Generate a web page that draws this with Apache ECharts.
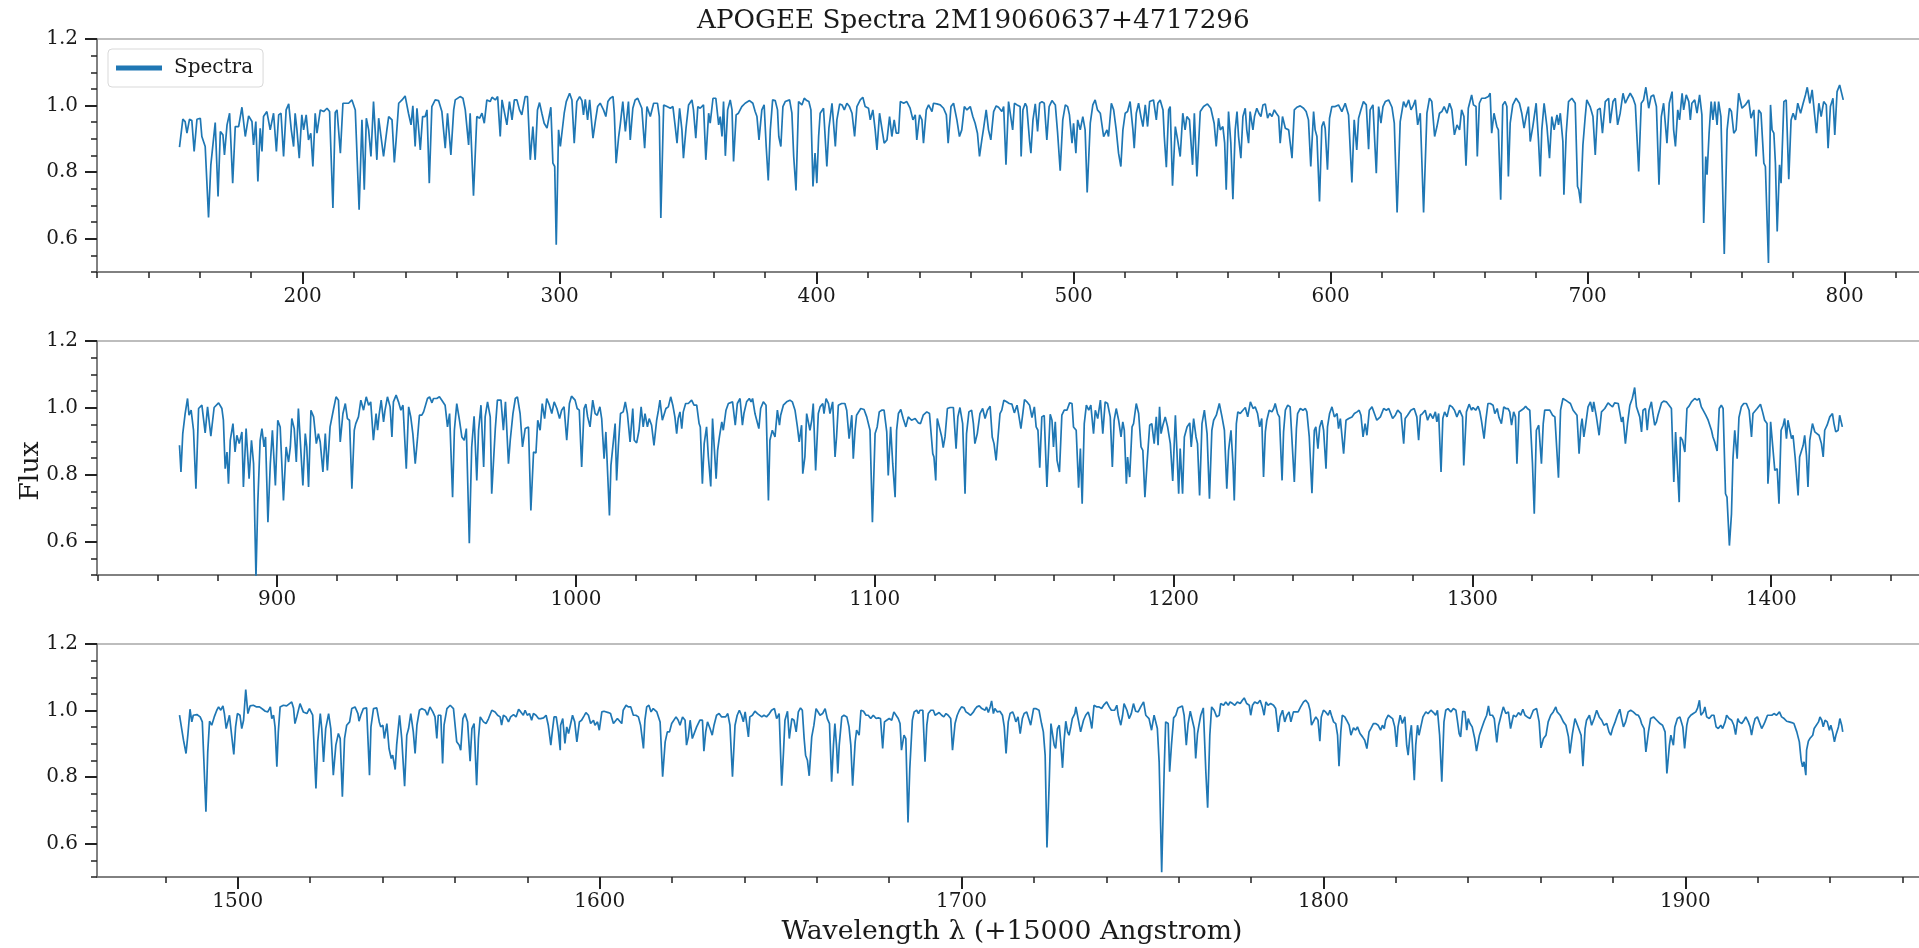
<!DOCTYPE html>
<html><head><meta charset="utf-8">
<script src="https://cdn.jsdelivr.net/npm/echarts@6/dist/echarts.min.js"></script>
<style>html,body{margin:0;padding:0;background:#fff}#chart{width:1919px;height:948px}</style>
</head><body><div id="chart"></div>
<script>
// Wavelength (+15000 Angstrom), flux pairs, panel by panel
const panel1 = [
[152.1,0.875],[153.4,0.959],[154.3,0.952],[155.0,0.917],[156.0,0.959],[156.9,0.955],[157.8,0.862],[158.9,0.959],[160.2,0.962],[160.8,0.907],[162.1,0.877],[163.4,0.664],[164.3,0.822],[164.7,0.852],[166.0,0.949],[167.1,0.727],[168.0,0.922],[169.0,0.912],[169.6,0.852],[170.6,0.942],[171.6,0.977],[172.8,0.767],[173.8,0.937],[175.1,0.937],[176.4,0.995],[177.7,0.907],[179.0,0.969],[180.3,0.952],[180.9,0.882],[181.8,0.952],[182.6,0.772],[183.5,0.932],[184.2,0.862],[184.8,0.967],[186.1,0.982],[187.4,0.927],[188.7,0.977],[189.8,0.862],[190.7,0.972],[191.6,0.977],[192.6,0.847],[193.6,0.987],[194.6,1.005],[195.6,0.927],[196.5,0.877],[197.1,0.977],[197.8,0.927],[198.7,0.842],[199.7,0.972],[200.4,0.927],[201.4,0.972],[202.3,0.897],[203.2,0.917],[204.0,0.817],[204.9,0.977],[205.6,0.917],[206.9,0.987],[208.2,0.982],[209.5,0.992],[210.5,0.982],[211.8,0.692],[212.7,0.979],[213.4,0.987],[214.7,0.857],[215.7,1.007],[217.9,1.007],[219.2,1.017],[220.5,0.987],[222.0,0.687],[223.1,0.957],[224.0,0.747],[224.8,0.962],[225.7,0.927],[226.6,0.847],[227.6,1.012],[228.9,0.837],[229.6,0.962],[230.2,0.967],[231.5,0.847],[232.8,0.927],[233.5,0.967],[234.8,0.957],[235.7,0.829],[236.4,0.897],[237.4,1.007],[238.7,1.017],[239.9,1.029],[241.2,0.977],[242.2,0.942],[242.9,0.999],[243.8,0.877],[244.5,0.992],[245.8,0.867],[246.7,0.967],[247.7,0.967],[248.4,0.987],[249.3,0.767],[250.3,0.997],[251.6,1.017],[252.9,1.015],[254.2,0.982],[255.5,0.872],[256.4,0.977],[257.7,0.852],[258.8,0.987],[259.4,1.017],[261.3,1.027],[262.4,1.022],[263.3,0.987],[264.6,0.882],[265.2,0.977],[266.5,0.729],[267.8,0.967],[268.9,0.962],[269.8,0.977],[270.7,0.947],[271.7,1.017],[273.0,1.012],[273.7,1.025],[275.0,1.017],[275.9,1.027],[276.9,0.907],[277.6,1.017],[278.2,1.022],[279.5,0.942],[280.5,1.012],[281.5,0.957],[282.4,1.017],[283.4,1.017],[284.4,0.987],[285.3,0.972],[286.6,1.027],[287.5,1.027],[288.6,0.837],[289.6,0.937],[290.5,0.837],[291.4,0.987],[292.2,1.009],[293.1,0.977],[294.0,0.947],[295.1,0.932],[295.7,0.957],[296.6,0.995],[297.4,0.827],[298.1,0.817],[298.7,0.582],
[299.6,0.927],[300.3,0.877],[301.0,0.872],[301.8,0.977],[302.6,1.012],[303.9,1.037],[304.8,1.017],[305.7,0.887],[306.7,1.012],[307.8,1.027],[308.7,1.015],[309.3,0.972],[310.0,1.019],[310.9,0.957],[311.7,1.017],[312.3,1.022],[313.0,0.902],[313.9,0.952],[314.8,0.997],[315.8,1.007],[317.1,0.987],[318.0,0.967],[318.8,1.012],[319.7,1.022],[320.8,1.027],[321.3,0.977],[322.0,0.827],[323.0,0.907],[323.6,0.942],[324.6,1.012],[325.6,0.922],[326.8,1.012],[327.5,0.897],[328.5,0.992],[329.4,1.017],[330.4,1.022],[331.1,1.017],[332.0,0.992],[333.1,0.872],[334.0,0.997],[335.3,0.967],[336.6,1.007],[338.1,1.007],[338.8,0.967],[339.4,0.662],[340.5,1.002],[341.8,0.997],[343.1,0.992],[344.1,0.997],[345.0,0.937],[345.7,0.887],[346.7,0.992],[347.6,0.927],[348.2,0.842],[349.2,0.932],[350.2,1.002],[351.5,1.017],[352.1,0.987],[353.0,0.902],[353.8,0.997],[354.7,0.992],[356.0,1.002],[356.9,0.837],[358.0,0.977],[358.6,0.947],[359.7,1.022],[360.8,1.022],[361.9,0.942],[362.5,0.967],[363.2,0.907],[363.8,1.012],[364.5,0.849],[365.4,0.987],[366.4,1.017],[367.1,0.987],[367.7,0.832],[368.7,0.972],[369.6,0.977],[370.9,0.997],[372.2,1.007],[373.9,1.015],[375.2,1.007],[376.1,0.982],[376.8,0.967],[377.6,0.897],[378.7,0.987],[379.6,1.002],[380.4,0.877],[381.2,0.775],[382.0,0.927],[382.9,1.017],[383.9,1.015],[384.8,0.987],[385.3,0.907],[386.1,0.877],[386.9,0.997],[387.8,1.012],[389.5,1.017],[390.4,0.977],[391.1,0.847],[392.0,0.745],[393.0,1.012],[394.3,1.002],[395.2,1.022],[396.2,1.015],[397.0,1.012],[397.8,0.987],[398.6,0.757],[399.4,0.857],[400.1,0.767],[400.8,0.907],[401.4,0.977],[402.7,0.992],[404.0,0.817],[404.8,0.932],[406.0,1.007],[407.3,0.877],[407.9,0.957],[409.0,1.005],[409.9,1.002],[410.8,0.987],[411.8,1.007],[412.8,0.997],[413.8,0.977],[414.8,0.907],[415.7,0.997],[417.0,1.017],[418.0,1.025],[418.9,0.997],[420.2,0.992],[420.9,0.957],[421.9,0.987],[422.8,0.927],[423.5,0.867],[424.5,0.977],[425.4,0.932],[426.3,0.887],[427.4,0.897],[428.4,0.967],[429.3,0.907],[430.2,0.957],[431.0,0.917],[431.9,0.917],[432.6,1.012],[433.9,1.007],[435.1,1.012],[436.4,0.992],[437.5,0.957],[438.4,0.972],[439.0,0.897],[440.1,0.972],[441.0,0.957],[441.6,0.887],[442.7,0.987],[443.6,1.002],[444.9,0.982],[445.5,1.007],[446.8,1.005],[448.1,1.002],[449.4,0.992],[450.5,0.972],[451.2,0.887],[452.3,0.997],[453.3,1.007],[454.6,0.957],[455.6,0.907],[456.5,0.927],[457.5,0.997],[458.5,0.987],[459.8,0.997],[460.8,0.967],[461.7,0.947],[462.6,0.917],[463.4,0.847],[464.3,0.897],[465.0,0.932],[466.0,0.987],[466.9,0.927],[467.8,0.897],[468.9,0.982],[469.9,0.999],[470.8,0.995],[472.1,0.982],[472.8,0.997],[473.7,0.822],[474.7,1.012],
[475.4,1.012],[476.3,0.927],[477.0,1.007],[478.0,1.002],[479.2,0.997],[479.6,0.847],[480.3,0.987],[481.2,1.007],[481.8,0.997],[482.9,0.892],[483.4,0.857],[484.2,0.957],[485.1,1.005],[486.0,0.922],[486.8,1.007],[487.7,1.012],[488.6,1.007],[489.6,0.897],[490.5,0.997],[491.6,1.015],[492.9,1.002],[493.8,0.917],[494.8,0.804],[495.8,0.957],[496.8,1.002],[497.7,0.997],[498.4,0.972],[499.4,0.887],[500.0,0.947],[500.9,0.857],[501.6,0.957],[502.6,0.927],[503.6,0.967],[504.5,0.927],[505.3,0.739],[506.5,0.947],[507.5,1.002],[508.4,1.017],[509.3,0.987],[510.4,0.977],[511.7,0.907],[513.0,0.927],[513.6,0.907],[514.7,1.007],[515.6,0.987],[516.6,0.927],[517.5,0.857],[518.4,0.817],[519.2,0.927],[520.1,0.977],[521.0,0.982],[522.0,1.012],[523.1,0.927],[523.6,0.872],[524.4,0.977],[525.3,1.007],[526.2,0.967],[527.0,0.937],[527.9,1.002],[528.8,0.937],[529.6,1.012],[531.1,1.017],[532.2,0.957],[532.8,1.007],[533.7,1.017],[534.8,0.987],[535.3,0.907],[536.1,0.815],[537.0,0.987],[537.6,0.997],[538.5,0.759],[539.6,0.937],[540.5,0.897],[541.5,0.847],[542.5,0.977],[543.4,0.927],[544.1,0.967],[545.1,0.957],[546.3,0.822],[547.0,0.977],[548.0,0.787],[549.3,0.982],[550.6,0.997],[552.1,1.005],[553.4,0.992],[554.7,0.947],[555.5,0.877],[556.4,0.962],[557.1,0.927],[558.1,0.937],[558.8,0.887],[559.4,0.747],[560.3,0.982],[561.2,0.887],[562.0,0.719],[562.9,0.927],[563.6,0.982],[564.2,0.907],[565.1,0.842],[565.9,0.967],[566.8,0.992],[567.4,0.927],[568.1,0.887],[568.7,0.982],[569.8,0.927],[570.4,0.967],[571.3,0.992],[572.1,0.977],[572.9,0.967],[573.7,1.002],[574.6,1.005],[575.5,0.962],[576.3,0.977],[577.2,0.967],[578.1,0.987],[578.9,0.977],[579.8,0.967],[580.4,0.887],[581.3,0.967],[582.4,0.932],[583.7,0.927],[585.0,0.842],[585.9,0.987],[586.9,0.995],[588.2,0.999],[589.5,0.992],[590.5,0.982],[591.4,0.957],[592.3,0.817],[593.4,0.982],[594.0,0.927],[594.7,0.907],[595.7,0.712],[596.6,0.937],[597.3,0.952],[597.9,0.932],[598.8,0.807],[599.6,0.962],[600.5,0.997],[601.8,0.997],[603.1,1.002],[604.4,0.982],[605.7,1.007],[607.0,0.972],[608.3,0.769],[609.2,0.957],[610.2,0.867],[610.9,0.962],[611.8,0.987],[612.8,1.012],[613.9,1.002],[614.8,0.869],[615.4,0.987],[616.5,1.002],[617.8,0.797],[618.7,0.997],[619.6,0.947],[620.4,0.997],[621.3,1.012],[622.6,1.017],[623.9,0.995],[624.8,0.947],[625.9,0.679],[627.1,0.952],[628.4,1.012],[629.3,0.995],[630.4,1.017],[631.3,0.987],[632.3,1.002],[633.0,1.017],[633.9,0.942],[634.9,0.977],[636.2,0.679],[637.5,0.977],[638.5,1.022],[639.4,1.012],[640.5,0.907],[641.4,0.937],[642.4,0.977],[643.3,0.982],[644.2,0.997],[645.3,0.977],[646.3,1.007],[647.2,0.987],[648.2,0.912],[649.2,0.942],[650.2,0.927],
[651.0,0.987],[651.9,0.967],[652.7,0.819],[653.6,0.992],[654.9,1.032],[655.6,1.002],[656.6,0.997],[657.1,0.847],[657.9,1.007],[658.8,1.022],[660.1,1.022],[661.4,1.027],[662.1,1.037],[662.7,0.917],[663.6,0.977],[664.7,0.937],[665.3,0.927],[666.2,0.717],[667.0,1.002],[667.9,1.012],[668.6,0.997],[669.2,0.787],[669.9,0.947],[670.9,1.002],[672.2,1.022],[673.5,1.007],[674.4,0.977],[675.3,0.932],[676.1,0.967],[677.0,0.997],[677.7,0.892],[678.7,0.937],[680.0,1.007],[680.9,0.897],[681.6,0.787],[682.2,0.927],[683.1,1.007],[684.2,0.937],[685.2,0.842],[686.1,0.967],[687.0,0.927],[688.1,0.972],[688.7,0.942],[689.4,0.977],[690.4,0.892],[690.8,0.732],[691.7,0.917],[692.6,1.012],[693.9,1.022],[695.2,1.007],[696.1,0.757],[696.6,0.747],[697.3,0.707],[698.2,0.882],[699.1,0.967],[699.7,1.017],[701.0,0.997],[702.1,0.967],[703.0,0.852],[703.9,0.987],[704.9,0.992],[705.8,0.917],[706.9,1.012],[708.2,1.022],[708.8,0.947],[709.9,1.012],[710.8,1.022],[711.7,0.942],[712.7,0.977],[713.8,1.037],[714.7,1.007],[715.6,1.022],[716.6,1.037],[717.7,1.022],[718.6,1.002],[719.9,0.802],[720.9,1.007],[721.8,1.017],[722.7,1.055],[723.8,0.992],[724.7,1.027],[725.7,1.032],[726.8,0.997],[727.8,0.762],[728.7,0.967],[729.6,1.007],[730.9,0.887],[731.8,1.007],[732.9,1.042],[733.5,0.927],[734.2,0.877],[735.1,0.987],[735.8,0.957],[736.8,1.037],[737.4,0.987],[738.4,1.032],[739.4,1.012],[740.0,0.957],[740.6,1.007],[741.7,1.017],[742.6,0.977],[743.6,1.032],[744.5,0.972],[745.2,0.647],[746.0,0.847],[746.5,0.792],[747.3,0.917],[748.1,1.012],[748.8,0.957],[749.5,1.012],[750.4,0.942],[751.0,1.012],[751.9,0.967],[753.2,0.554],[754.3,0.927],[755.2,0.992],[756.0,0.982],[756.9,0.917],[757.8,0.927],[758.8,1.037],[760.1,0.992],[761.4,1.002],[762.7,1.017],[763.6,0.962],[764.7,0.987],[765.6,0.847],[766.6,0.987],[767.5,0.977],[768.6,0.827],[769.2,0.817],[770.4,0.527],[771.2,1.002],[771.8,0.927],[772.5,0.917],[773.1,0.827],[773.8,0.622],[774.7,0.822],[775.3,0.767],[776.4,1.012],[777.3,1.017],[778.3,0.779],[779.2,0.957],[780.0,0.977],[780.9,0.957],[781.8,1.007],[782.9,0.977],[783.9,1.007],[784.8,1.032],[785.5,1.055],[786.5,1.007],[787.4,1.047],[788.3,0.977],[789.1,0.917],[790.0,1.007],[790.9,0.967],[791.9,1.012],[792.9,1.002],[793.6,0.872],[794.5,0.997],[795.5,1.022],[796.2,0.912],[797.1,1.042],[798.1,1.062],[798.7,1.057],[799.5,1.017]
];
const panel2 = [
[867.3,0.888],[867.8,0.808],[868.4,0.923],[869.2,0.983],[870.0,1.028],[870.5,0.978],[871.2,0.993],[872.0,0.933],[872.8,0.758],[873.7,0.998],[874.8,1.008],[875.9,0.925],[876.7,1.003],[877.8,0.915],[878.9,1.001],[880.4,1.015],[881.5,0.998],[882.0,0.963],[882.6,0.818],[883.2,0.868],[883.7,0.773],[884.3,0.903],[885.2,0.953],[885.9,0.868],[886.5,0.918],[887.3,0.893],[888.2,0.928],[888.7,0.763],[889.6,0.938],[890.6,0.788],[891.4,0.903],[892.1,0.833],[892.9,0.493],[893.5,0.713],[894.3,0.903],[894.9,0.938],[895.6,0.883],[896.1,0.913],[896.9,0.658],[897.7,0.833],[898.4,0.933],[899.4,0.768],[900.2,0.963],[901.0,0.943],[902.1,0.723],[903.0,0.883],[903.8,0.838],[904.4,0.883],[904.9,0.968],[905.7,0.938],[906.4,0.838],[907.1,0.998],[907.7,0.993],[908.6,0.768],[909.4,0.923],[909.9,0.883],[910.5,0.763],[911.3,0.993],[912.2,0.973],[913.1,0.893],[913.8,0.923],[914.4,0.898],[915.3,0.808],[916.1,0.923],[916.8,0.813],[917.7,0.943],[918.9,0.998],[919.7,1.033],[920.5,1.023],[921.1,0.898],[922.0,0.983],[922.8,1.013],[923.5,0.968],[924.2,0.963],[925.0,0.758],[925.8,0.933],[926.3,0.953],[927.2,0.973],[928.0,1.023],[928.9,0.993],[929.8,1.033],[930.6,1.008],[931.3,1.018],[932.2,0.903],[933.1,0.983],[933.6,0.933],[934.1,0.978],[934.8,1.023],[935.6,0.958],[936.1,0.993],[936.9,1.033],[937.8,1.003],[938.4,0.913],[938.9,1.018],[939.8,1.038],[940.6,1.018],[941.4,0.993],[942.1,1.008],[943.2,0.818],[944.0,1.003],[944.7,0.973],[945.4,0.923],[946.2,0.833],[947.0,0.913],[947.6,0.978],[948.4,0.978],[949.0,0.988],[949.5,0.983],[950.3,1.028],[951.0,1.033],[951.8,1.015],[952.3,1.028],[953.4,1.028],[954.3,1.033],[955.1,1.023],[956.2,1.008],[957.0,0.943],[957.7,0.983],[958.7,0.733],[959.3,0.933],[960.1,1.013],[961.0,0.963],[961.8,0.913],[962.6,0.903],[963.3,0.938],[964.3,0.595],[965.1,0.883],[965.9,0.975],[966.8,0.783],[967.4,0.933],[968.2,1.008],[969.1,0.823],[969.6,0.973],[970.4,1.018],[971.3,0.973],[971.8,0.743],[973.0,0.938],[973.7,1.023],[974.9,1.023],[975.7,0.933],[976.4,1.018],[977.4,0.833],[978.0,0.903],[978.9,0.983],[979.7,1.028],[980.4,1.033],[981.3,0.983],[982.1,0.883],[983.0,0.938],[983.6,0.933],[984.1,0.943],[984.9,0.693],[985.8,0.868],[986.6,0.865],[987.2,0.963],[988.0,0.933],[988.7,1.013],[989.5,0.968],[990.2,1.028],[991.1,1.008],[991.9,0.983],[992.7,1.018],[993.6,0.998],[994.5,0.968],
[995.2,0.993],[996.0,1.003],[996.9,0.903],[997.8,1.013],[998.5,1.035],[999.7,1.023],[1000.4,0.998],[1001.1,0.993],[1001.9,0.823],[1002.7,0.998],[1003.3,1.011],[1003.9,0.973],[1004.7,0.943],[1005.6,1.023],[1006.4,0.983],[1007.1,0.978],[1008.0,1.003],[1008.6,0.968],[1009.4,0.848],[1010.0,0.928],[1010.6,0.923],[1011.2,0.678],[1011.7,0.828],[1012.3,0.833],[1013.1,0.953],[1013.6,0.783],[1014.2,0.888],[1014.9,0.983],[1015.8,0.988],[1016.5,1.018],[1017.2,0.983],[1018.1,0.898],[1019.0,0.998],[1019.5,0.903],[1020.3,0.895],[1021.1,0.933],[1021.8,1.003],[1022.5,0.943],[1023.1,0.983],[1023.9,0.943],[1024.5,0.968],[1025.3,0.948],[1026.1,0.888],[1027.0,0.963],[1027.6,0.993],[1028.1,1.023],[1028.9,0.963],[1029.5,0.963],[1030.1,0.998],[1030.9,1.003],[1031.7,1.033],[1032.4,1.008],[1033.1,0.973],[1033.7,0.923],[1034.2,0.968],[1034.8,0.988],[1035.4,0.938],[1035.9,0.988],[1036.7,1.013],[1037.6,1.013],[1038.7,1.023],[1039.5,1.008],[1040.4,1.008],[1041.2,0.953],[1041.6,0.943],[1042.3,0.773],[1042.9,0.893],[1043.7,0.943],[1044.3,0.853],[1045.1,0.765],[1045.7,0.968],[1046.2,0.963],[1046.9,0.788],[1047.4,0.873],[1048.0,0.913],[1048.8,0.958],[1049.3,0.933],[1050.2,0.993],[1051.0,1.013],[1051.5,1.008],[1052.4,1.018],[1053.3,0.948],[1054.0,1.013],[1054.9,1.028],[1055.7,0.948],[1056.2,0.983],[1057.1,1.018],[1058.0,1.028],[1058.6,1.018],[1059.1,1.028],[1059.9,0.983],[1060.5,0.983],[1061.2,0.938],[1061.8,0.998],[1062.7,1.018],[1063.6,1.008],[1064.4,0.723],[1064.9,0.903],[1065.7,0.933],[1066.6,0.913],[1067.4,0.993],[1068.1,0.948],[1068.5,0.978],[1069.4,1.008],[1070.5,1.018],[1071.6,1.023],[1072.4,1.018],[1073.3,0.993],[1074.1,0.943],[1074.7,0.898],[1075.5,0.948],[1075.9,0.803],[1076.6,0.853],[1077.2,0.983],[1077.8,0.978],[1078.3,0.933],[1078.9,0.963],[1079.4,1.013],[1080.2,0.813],[1081.1,0.983],[1081.7,1.003],[1082.6,1.013],[1083.0,0.983],[1083.7,1.028],[1084.5,1.013],[1085.0,0.983],[1085.9,1.018],[1086.7,0.853],[1087.2,0.913],[1087.8,1.008],[1088.9,1.013],[1090.0,1.013],[1090.6,0.993],[1091.4,0.908],[1092.3,0.978],[1092.8,0.848],[1093.4,0.933],[1093.9,0.978],[1094.5,0.983],[1095.3,0.998],[1096.4,0.995],[1097.3,0.973],[1098.4,0.933],[1099.2,0.658],[1100.1,0.923],[1100.8,0.943],[1101.5,0.988],[1102.3,0.993],[1103.1,0.993],[1104.0,0.928],[1104.5,0.798],[1105.3,0.943],[1106.0,0.833],[1106.8,0.733],[1107.3,0.933],[1107.9,0.983],[1108.7,0.995],[1109.5,0.968],[1110.4,0.943],[1111.2,0.973],[1112.3,0.963],[1113.5,0.968],[1114.6,0.955],[1115.3,0.953],[1116.2,0.978],[1117.4,0.988],[1118.3,0.983],[1119.4,0.863],[1119.8,0.853],[1120.4,0.783],[1120.9,0.968],[1121.6,0.943],[1122.4,0.913],[1122.9,0.881],[1123.5,0.913],[1124.3,0.998],[1125.2,1.001],[1126.3,1.001],[1127.2,0.878],[1127.8,0.973],[1128.5,1.001],[1129.4,0.953],[1130.2,0.743],[1130.7,0.923],[1131.5,0.988],[1132.4,0.993],[1133.0,0.953],[1133.5,0.893],[1134.3,0.923],[1135.2,0.983],[1136.1,0.998],[1136.9,0.968],[1137.7,0.993],[1138.6,1.005],[1139.3,0.913],[1139.9,0.893],[1140.6,0.843],[1141.1,0.843],[1141.9,0.983],[1142.5,0.993],[1143.2,1.023],[1144.1,1.018],[1145.0,1.013],
[1145.9,1.011],[1146.7,0.985],[1147.6,1.008],[1148.1,0.983],[1148.9,0.938],[1149.6,0.988],[1150.1,1.025],[1150.9,1.018],[1151.8,1.008],[1152.6,0.971],[1153.4,1.003],[1154.0,0.943],[1154.6,0.933],[1155.2,0.821],[1155.9,0.973],[1156.7,0.977],[1157.6,0.763],[1158.2,0.883],[1158.7,0.981],[1159.3,0.963],[1159.8,0.883],[1160.4,0.958],[1161.0,0.843],[1161.8,0.808],[1162.6,0.978],[1163.4,0.993],[1164.3,0.993],[1165.2,1.015],[1166.0,1.013],[1166.5,0.943],[1167.4,0.933],[1168.2,0.761],[1168.8,0.878],[1169.4,0.713],[1170.1,0.953],[1170.8,1.008],[1171.6,0.993],[1172.3,1.008],[1173.2,0.923],[1173.8,0.993],[1174.6,0.968],[1175.5,1.023],[1176.3,0.923],[1177.1,1.018],[1177.9,1.013],[1178.8,0.973],[1179.5,0.823],[1180.1,0.963],[1180.8,0.998],[1181.6,0.963],[1182.4,0.913],[1183.0,0.958],[1183.5,0.933],[1184.2,0.773],[1184.6,0.853],[1185.3,0.793],[1186.1,0.943],[1186.6,0.953],[1187.5,1.013],[1188.3,0.983],[1189.1,0.883],[1189.7,0.873],[1190.4,0.733],[1191.1,0.833],[1192.0,0.948],[1192.7,0.953],[1193.5,0.893],[1194.2,0.973],[1194.8,0.888],[1195.3,1.003],[1195.8,0.923],[1196.4,0.948],[1197.2,0.973],[1198.0,0.943],[1198.9,0.893],[1199.7,0.781],[1200.6,0.978],[1201.1,0.873],[1201.7,0.743],[1202.2,0.878],[1203.0,0.743],[1203.6,0.913],[1204.5,0.943],[1205.4,0.955],[1205.9,0.883],[1206.7,0.968],[1207.5,0.913],[1208.0,0.893],[1208.7,0.738],[1209.5,0.953],[1210.3,0.993],[1211.2,0.923],[1212.0,0.728],[1212.8,0.933],[1213.4,0.963],[1214.3,0.978],[1215.3,1.013],[1216.2,0.973],[1217.0,0.933],[1217.8,0.758],[1218.4,0.873],[1219.2,0.933],[1219.9,0.828],[1220.3,0.723],[1221.0,0.953],[1221.5,0.988],[1222.3,0.983],[1223.2,0.993],[1224.0,1.001],[1224.8,0.973],[1225.7,1.018],[1226.6,0.998],[1227.3,1.003],[1228.1,0.983],[1228.8,0.943],[1229.5,0.968],[1230.1,0.793],[1230.7,0.928],[1231.2,0.963],[1232.0,0.993],[1232.9,0.988],[1233.5,0.998],[1234.0,1.013],[1234.8,0.983],[1235.4,0.973],[1236.3,0.783],[1236.8,0.928],[1237.4,0.993],[1238.2,1.008],[1239.0,1.003],[1239.6,1.008],[1240.4,0.778],[1241.1,0.938],[1241.5,0.983],[1242.4,0.998],[1243.3,0.993],[1244.1,0.998],[1244.6,0.988],[1245.4,0.913],[1246.3,0.745],[1247.1,0.933],[1247.6,0.943],[1248.3,0.878],[1248.9,0.943],[1249.6,0.963],[1250.2,0.933],[1251.0,0.818],[1251.5,0.943],[1252.2,0.983],[1253.0,1.003],[1253.8,0.973],[1254.7,0.983],[1255.2,0.938],[1255.8,0.968],[1256.9,0.863],[1257.7,0.963],[1258.6,0.968],[1259.7,0.973],[1260.5,0.983],[1261.4,0.988],[1262.1,0.993],[1262.7,0.978],[1263.4,0.913],[1264.1,0.953],[1264.7,0.918],[1265.5,0.993],[1266.4,1.003],[1267.2,0.983],[1268.0,0.963],[1269.2,0.973],[1270.3,0.998],[1271.2,0.993],[1272.0,0.998],[1272.5,0.998],[1273.3,0.968],[1274.2,0.978],[1275.0,0.993],[1276.1,0.983],[1277.0,0.893],[1277.5,0.968],[1278.3,0.978],[1279.4,0.993],[1280.5,0.998],[1281.4,0.973],[1282.0,0.903],[1282.6,0.978],[1283.3,0.983],[1284.2,0.993],[1285.0,0.963],[1285.9,0.983],[1286.8,0.968],[1287.6,0.988],[1288.1,0.958],[1288.7,0.983],[1289.5,0.808],[1290.1,0.968],[1290.7,0.988],[1291.5,0.973],[1292.4,1.008],[1293.2,1.003],[1294.0,0.993],[1294.8,0.973],[1295.7,0.993],
[1296.0,0.998],[1296.7,0.973],[1297.1,0.828],[1298.0,0.988],[1298.9,1.011],[1299.7,0.993],[1300.2,1.001],[1301.1,0.993],[1301.9,1.005],[1302.5,0.988],[1303.0,0.963],[1303.9,0.908],[1304.5,0.963],[1305.2,1.013],[1306.0,1.013],[1306.9,1.008],[1307.5,0.983],[1308.3,0.998],[1308.9,0.971],[1309.7,0.953],[1310.5,1.003],[1311.2,0.998],[1311.9,0.998],[1312.5,0.988],[1313.1,0.948],[1313.8,0.988],[1314.4,0.973],[1314.9,0.833],[1315.6,0.988],[1316.4,0.993],[1317.2,0.998],[1317.8,1.005],[1318.4,0.998],[1319.2,0.993],[1320.1,0.833],[1320.7,0.683],[1321.4,0.933],[1322.2,0.948],[1323.1,0.833],[1323.7,0.953],[1324.2,0.993],[1325.0,0.993],[1325.9,0.993],[1326.8,0.978],[1327.6,0.973],[1328.1,0.968],[1328.8,0.791],[1329.5,0.993],[1330.3,1.028],[1331.2,1.023],[1332.0,1.018],[1332.8,1.013],[1333.7,0.993],[1334.2,0.988],[1335.0,0.978],[1335.7,0.863],[1336.3,0.943],[1336.7,0.968],[1337.3,0.913],[1337.8,0.943],[1338.7,1.003],[1339.5,1.018],[1340.2,0.988],[1340.6,1.018],[1341.5,0.973],[1342.4,0.918],[1343.2,0.988],[1344.3,0.998],[1345.4,1.015],[1346.2,1.008],[1346.9,1.003],[1347.6,1.015],[1348.8,1.013],[1349.3,0.988],[1349.9,0.958],[1350.4,0.973],[1351.2,0.893],[1351.9,0.953],[1352.7,1.008],[1353.5,1.028],[1354.3,1.061],[1354.9,1.003],[1355.4,0.998],[1356.0,0.973],[1356.6,0.928],[1357.1,0.993],[1357.9,0.998],[1358.5,0.933],[1359.1,0.993],[1359.9,1.018],[1360.5,0.978],[1361.0,0.948],[1361.6,0.958],[1362.1,0.978],[1362.7,0.973],[1363.3,1.015],[1364.0,1.020],[1364.9,1.018],[1365.8,1.008],[1366.6,0.998],[1367.4,0.778],[1368.0,0.928],[1368.5,0.933],[1369.2,0.718],[1369.6,0.913],[1370.3,0.903],[1371.1,0.868],[1371.8,0.998],[1372.5,1.005],[1373.3,1.018],[1374.4,1.028],[1375.2,1.023],[1375.9,1.028],[1376.6,1.003],[1377.2,0.993],[1378.1,0.978],[1378.9,0.963],[1379.4,0.968],[1380.0,0.933],[1380.5,0.913],[1381.1,0.898],[1381.9,0.871],[1382.6,0.998],[1383.3,1.008],[1383.9,0.998],[1384.7,0.743],[1385.2,0.733],[1386.0,0.588],[1386.7,0.683],[1387.2,0.848],[1387.8,0.933],[1388.6,0.848],[1389.2,0.971],[1390.0,1.003],[1390.8,1.013],[1391.7,1.013],[1392.6,0.993],[1393.4,0.913],[1393.9,0.983],[1394.5,0.988],[1395.3,0.998],[1395.9,0.998],[1396.4,1.011],[1397.1,0.988],[1397.8,0.963],[1398.6,0.953],[1398.9,0.773],[1399.5,0.858],[1399.8,0.958],[1400.4,0.958],[1401.2,0.813],[1402.0,0.818],[1402.6,0.713],[1403.3,0.933],[1404.0,0.948],[1404.5,0.968],[1405.1,0.908],[1405.6,0.963],[1406.2,0.968],[1406.8,0.908],[1407.3,0.918],[1408.0,0.853],[1408.4,0.808],[1409.0,0.738],[1409.5,0.853],[1410.1,0.858],[1410.7,0.888],[1411.2,0.918],[1411.8,0.858],[1412.3,0.763],[1412.9,0.903],[1413.8,0.953],[1414.6,0.928],[1415.3,0.923],[1416.0,0.918],[1416.8,0.893],[1417.4,0.853],[1417.9,0.933],[1418.7,0.948],[1419.6,0.973],[1420.5,0.983],[1421.0,0.953],[1421.6,0.928],[1422.4,0.933],[1422.9,0.978],[1423.5,0.973],[1423.8,0.943]
];
const panel3 = [
[1483.9,0.986],[1484.3,0.984],[1485.0,0.911],[1485.7,0.871],[1486.2,0.926],[1486.8,1.004],[1487.3,0.966],[1487.7,0.986],[1488.2,0.981],[1488.7,0.988],[1489.1,0.991],[1489.6,0.981],[1490.2,0.966],[1491.2,0.696],[1491.7,0.876],[1492.2,0.968],[1492.8,0.956],[1493.5,0.981],[1494.2,1.001],[1494.7,1.011],[1495.3,1.001],[1495.9,1.014],[1496.3,0.991],[1496.8,0.946],[1497.1,0.948],[1497.7,0.986],[1498.3,0.926],[1498.9,0.868],[1499.4,0.951],[1499.9,0.991],[1500.6,0.986],[1501.1,0.946],[1501.6,0.971],[1502.2,1.063],[1502.8,0.991],[1503.4,1.014],[1504.3,1.016],[1505.2,1.011],[1506.0,1.011],[1506.9,1.004],[1507.6,0.998],[1508.3,0.996],[1509.0,1.011],[1509.4,0.976],[1509.9,0.986],[1510.3,0.951],[1510.8,0.831],[1511.2,0.936],[1511.7,1.011],[1512.6,1.016],[1513.5,1.014],[1514.3,1.021],[1514.9,1.026],[1515.4,1.008],[1515.8,0.961],[1516.3,0.981],[1517.2,1.021],[1518.1,0.996],[1519.1,0.991],[1519.8,1.006],[1520.7,0.986],[1521.6,0.766],[1522.1,0.906],[1522.8,0.991],[1523.2,0.946],[1523.7,0.846],[1524.3,0.946],[1525.1,0.991],[1525.7,0.946],[1526.4,0.806],[1527.1,0.896],[1527.8,0.931],[1528.3,0.916],[1528.9,0.741],[1529.5,0.916],[1530.1,0.956],[1530.9,0.966],[1531.5,1.006],[1532.4,1.011],[1533.2,0.991],[1533.5,0.968],[1534.0,0.986],[1534.7,1.006],[1535.6,1.008],[1536.4,0.806],[1536.8,0.951],[1537.5,1.006],[1538.4,1.008],[1539.1,0.966],[1539.5,0.951],[1540.1,0.956],[1540.5,0.916],[1541.2,0.961],[1541.8,0.886],[1542.4,0.856],[1542.8,0.866],[1543.5,0.823],[1543.9,0.896],[1544.7,0.986],[1545.3,0.916],[1546.1,0.773],[1546.7,0.926],[1547.2,0.946],[1547.8,0.991],[1548.5,0.936],[1549.0,0.871],[1549.5,0.956],[1550.2,1.001],[1550.8,1.006],[1551.8,1.001],[1552.4,0.986],[1553.1,1.011],[1553.9,0.996],[1554.5,0.981],[1555.0,0.916],[1555.4,0.986],[1556.1,0.986],[1556.6,0.841],[1557.0,0.956],[1557.8,1.006],[1558.7,1.016],[1559.6,1.006],[1560.5,0.906],[1561.2,0.896],[1561.6,0.881],[1562.2,0.976],[1562.8,0.991],[1563.5,0.966],[1564.2,0.848],[1564.7,0.946],[1565.3,0.961],[1566.0,0.776],[1566.5,0.916],[1567.0,0.981],[1567.9,0.966],[1568.6,0.961],[1569.3,0.976],[1570.2,1.001],[1571.1,0.996],[1571.8,0.986],[1572.5,0.981],[1572.9,0.956],[1573.4,0.986],[1574.1,0.981],[1574.8,0.966],[1575.4,0.981],[1576.2,0.988],[1576.9,0.981],[1577.6,1.004],[1578.2,0.996],[1578.9,0.986],[1579.4,1.001],[1580.0,0.986],[1580.6,0.991],[1581.2,0.971],[1581.7,0.991],[1582.4,0.986],[1583.1,0.976],[1583.7,0.976],[1584.5,0.978],[1585.2,0.986],[1585.8,0.956],[1586.5,0.896],[1586.9,0.936],[1587.4,0.981],[1588.0,0.981],[1588.6,0.936],[1589.1,0.881],
[1589.2,0.956],[1589.8,0.976],[1590.4,0.901],[1590.9,0.951],[1591.4,0.931],[1592.0,0.961],[1592.5,0.986],[1593.1,0.966],[1593.7,0.906],[1594.4,0.966],[1595.0,0.971],[1595.7,0.984],[1596.2,0.994],[1596.9,0.986],[1597.5,0.961],[1598.3,0.971],[1598.7,0.956],[1599.4,0.966],[1599.9,0.941],[1600.6,0.996],[1601.2,0.998],[1601.7,1.001],[1602.4,0.994],[1603.0,0.991],[1603.8,0.961],[1604.2,0.956],[1604.9,0.976],[1605.4,0.976],[1606.1,0.961],[1606.5,1.001],[1607.3,1.016],[1607.9,1.011],[1608.6,1.011],[1609.3,0.986],[1610.0,0.986],[1610.7,0.981],[1611.3,0.956],[1612.1,0.886],[1612.5,0.971],[1613.0,1.011],[1613.6,1.016],[1614.2,0.996],[1614.8,1.006],[1615.8,0.996],[1616.7,0.966],[1617.4,0.801],[1618.1,0.906],[1618.7,0.936],[1619.3,0.936],[1619.9,0.961],[1620.4,0.966],[1621.1,0.981],[1621.7,0.971],[1622.2,0.956],[1622.9,0.981],[1623.6,0.971],[1624.0,0.896],[1624.5,0.921],[1625.0,0.971],[1625.6,0.916],[1626.1,0.921],[1626.8,0.951],[1627.7,0.971],[1628.4,0.971],[1628.8,0.878],[1629.3,0.936],[1629.8,0.966],[1630.5,0.946],[1631.1,0.926],[1631.6,0.956],[1632.3,0.986],[1633.0,0.991],[1633.7,0.981],[1634.2,0.986],[1634.8,0.981],[1635.4,0.991],[1636.0,0.956],[1636.7,0.801],[1637.4,0.956],[1638.0,0.986],[1638.6,1.001],[1639.2,0.986],[1639.7,0.966],[1640.2,0.996],[1640.6,0.991],[1641.1,0.921],[1641.5,0.981],[1642.2,0.986],[1642.9,0.998],[1643.6,0.991],[1644.1,0.986],[1644.8,0.981],[1645.4,0.986],[1646.1,0.981],[1646.9,0.991],[1647.5,1.001],[1648.3,1.006],[1648.9,0.976],[1649.6,0.991],[1650.3,0.774],[1650.8,0.876],[1651.2,0.971],[1651.9,0.998],[1652.4,0.916],[1653.1,0.976],[1653.7,0.971],[1654.3,0.936],[1654.9,0.996],[1655.5,1.008],[1656.0,1.001],[1656.5,0.916],[1656.9,0.866],[1657.4,0.851],[1657.9,0.804],[1658.6,0.921],[1659.2,0.956],[1659.8,1.006],[1660.2,1.001],[1660.9,0.986],[1661.6,0.991],[1662.3,1.006],[1662.9,0.976],[1663.5,0.961],[1664.1,0.786],[1664.6,0.896],[1665.0,0.961],[1665.5,0.886],[1665.8,0.811],[1666.2,0.896],[1666.9,0.981],[1667.5,0.986],[1668.3,0.981],[1668.9,0.951],[1669.4,0.896],[1669.9,0.774],[1670.6,0.906],[1671.0,0.941],[1671.7,0.926],[1672.2,1.001],[1672.9,0.998],[1673.6,0.986],[1674.2,0.986],[1674.9,0.976],[1675.6,0.986],[1676.4,0.976],[1677.0,0.978],[1677.6,0.976],[1678.2,0.886],[1678.7,0.966],[1679.3,0.971],[1680.0,0.976],[1680.7,0.971],[1681.3,0.996],[1681.9,0.986],[1682.5,0.976],[1683.0,0.961],[1683.4,0.881],[1684.1,0.926],[1684.6,0.916],[1685.2,0.664],[1685.7,0.826],[1686.4,0.971],[1686.9,0.996],[1687.6,1.001],[1688.1,0.991],[1688.5,1.001],[1689.3,1.001],[1689.9,0.846],[1690.4,0.956],[1690.8,0.991],[1691.5,1.001],[1692.2,1.001],[1692.7,0.986],[1693.1,0.991],[1693.8,0.994],[1694.5,0.986],[1695.1,0.981],[1695.7,0.991],[1696.3,0.986],[1697.0,0.976],[1697.5,0.881],[1698.2,0.961],[1698.8,0.986],[1699.4,1.001],[1700.0,1.011],[1700.7,1.008],[1701.2,0.996],[1701.9,0.991],[1702.5,0.986],[1703.3,0.996],[1703.7,1.004],[1704.2,1.011],[1704.9,1.014],[1705.6,1.006],[1706.0,1.006],[1706.5,1.001],[1706.9,1.011],[1707.4,0.994],[1707.9,1.011],[1708.3,1.029],[1708.8,0.991],[1709.2,1.006],[1709.9,0.996],[1710.6,0.998],[1711.3,0.986],[1711.8,0.951],[1712.3,0.871],[1712.9,0.966],[1713.4,0.991],
[1714.1,0.996],[1714.5,0.986],[1715.0,0.966],[1715.6,0.981],[1716.2,0.931],[1716.8,0.976],[1717.3,0.991],[1718.0,0.996],[1718.7,0.971],[1719.1,0.956],[1719.9,1.006],[1720.5,1.006],[1721.4,1.001],[1722.1,0.961],[1722.6,0.936],[1723.1,0.866],[1723.6,0.589],[1724.2,0.776],[1724.7,0.961],[1725.1,0.956],[1725.6,0.896],[1726.0,0.886],[1726.5,0.946],[1727.0,0.956],[1727.4,0.906],[1727.9,0.828],[1728.3,0.906],[1728.8,0.968],[1729.3,0.936],[1729.7,0.926],[1730.2,0.951],[1730.6,0.976],[1731.3,0.991],[1731.6,1.011],[1732.2,0.976],[1732.9,0.936],[1733.7,0.971],[1734.3,0.986],[1735.0,0.996],[1735.5,0.976],[1736.0,0.946],[1736.6,1.016],[1737.4,1.011],[1738.0,1.011],[1738.7,1.006],[1739.4,1.018],[1740.1,1.026],[1740.8,1.011],[1741.4,1.001],[1742.3,1.001],[1742.9,1.016],[1743.3,0.986],[1744.0,0.956],[1744.5,0.986],[1744.9,1.021],[1745.7,1.001],[1746.3,0.976],[1746.9,0.991],[1747.5,1.021],[1748.1,0.998],[1748.8,0.996],[1749.5,1.011],[1750.3,1.026],[1750.9,0.986],[1751.8,0.976],[1752.5,0.941],[1753.2,0.986],[1753.7,0.981],[1754.1,0.946],[1754.6,0.846],[1755.3,0.514],[1756.0,0.826],[1756.4,0.966],[1757.1,0.961],[1757.5,0.816],[1758.0,0.896],[1758.6,0.978],[1759.2,0.986],[1759.8,1.008],[1760.4,1.011],[1761.0,1.014],[1761.5,0.986],[1762.1,0.896],[1762.6,0.961],[1763.2,0.998],[1763.6,0.994],[1764.3,0.946],[1764.7,0.856],[1765.2,0.931],[1765.6,0.956],[1766.1,0.986],[1766.8,1.008],[1767.5,0.816],[1768.0,0.708],[1768.6,0.926],[1769.1,1.011],[1769.8,1.001],[1770.5,0.981],[1771.2,0.986],[1771.6,1.021],[1772.4,1.016],[1773.0,1.026],[1773.7,1.016],[1774.2,1.026],[1774.9,1.021],[1775.5,1.016],[1776.2,1.026],[1777.0,1.021],[1777.6,1.031],[1778.1,1.038],[1778.8,1.021],[1779.5,1.016],[1779.9,0.986],[1780.4,1.016],[1781.0,1.026],[1781.8,1.021],[1782.5,1.031],[1783.1,1.011],[1783.6,0.986],[1784.1,1.026],[1784.7,1.016],[1785.4,1.021],[1786.2,1.016],[1786.8,1.006],[1787.5,0.936],[1788.0,0.981],[1788.7,1.001],[1789.3,0.966],[1789.9,0.986],[1790.5,0.996],[1791.0,0.966],[1791.7,0.996],[1792.4,0.996],[1793.0,0.996],[1793.7,1.011],[1794.5,1.026],[1795.1,1.031],[1795.8,1.021],[1796.3,1.001],[1796.7,0.956],[1797.2,0.951],[1797.9,0.981],[1798.5,0.971],[1799.0,0.908],[1799.4,0.981],[1800.0,1.001],[1800.6,0.996],[1801.3,0.986],[1801.8,1.001],[1802.2,0.986],[1802.8,0.966],[1803.4,0.961],[1803.9,0.926],[1804.3,0.833],[1804.8,0.936],[1805.2,0.986],[1805.9,0.981],[1806.4,0.971],[1807.1,0.956],[1807.6,0.926],[1808.3,0.948],[1808.9,0.941],[1809.4,0.951],[1810.1,0.931],[1810.8,0.921],[1811.4,0.911],[1812.0,0.886],[1812.6,0.936],[1813.1,0.946],[1813.8,0.961],[1814.5,0.961],[1815.1,0.956],[1815.8,0.941],[1816.3,0.956],[1816.8,0.946],[1817.2,0.971],[1817.9,0.986],[1818.4,0.991],[1819.1,0.976],[1819.7,0.951],[1820.2,0.891],[1820.6,0.951],[1821.2,0.986],[1821.8,0.961],[1822.5,0.981],[1823.0,0.896],[1823.4,0.866],[1823.9,0.926],[1824.3,0.956],[1825.1,0.791],[1825.5,0.896],[1826.0,0.956],[1826.4,0.926],[1826.9,0.951],[1827.5,0.981],[1828.3,0.996],[1828.9,0.991],[1829.7,1.001],[1830.4,0.994],[1831.0,0.986],[1831.5,1.001],[1832.1,0.926],[1832.7,0.786],[1833.3,0.966],[1833.8,1.001],[1834.4,1.006],[1835.2,0.996],[1835.9,1.006],[1836.6,1.001],[1837.0,0.971],[1837.5,0.931],[1837.9,0.921],
[1838.5,0.998],[1839.1,0.996],[1839.6,0.941],[1840.0,0.976],[1840.5,0.961],[1841.1,0.951],[1841.8,0.916],[1842.3,0.878],[1843.1,0.926],[1843.7,0.946],[1844.4,0.968],[1845.1,0.986],[1845.6,1.014],[1846.0,0.986],[1846.7,0.986],[1847.2,0.976],[1847.9,0.904],[1848.4,0.956],[1849.1,0.986],[1849.7,1.011],[1850.4,0.991],[1851.1,0.996],[1851.7,0.946],[1852.5,0.986],[1853.2,0.981],[1853.9,0.994],[1854.5,0.986],[1855.1,1.004],[1855.7,0.986],[1856.3,0.981],[1857.1,0.976],[1858.0,1.001],[1858.9,1.006],[1859.6,0.966],[1860.1,0.888],[1860.8,0.916],[1861.5,0.926],[1862.1,0.966],[1862.8,0.986],[1863.5,0.996],[1864.2,1.011],[1864.6,0.996],[1865.4,0.986],[1866.3,0.966],[1867.0,0.956],[1867.7,0.921],[1868.1,0.871],[1868.8,0.931],[1869.5,0.976],[1870.2,0.956],[1870.7,0.961],[1871.2,0.926],[1871.7,0.833],[1872.3,0.946],[1872.7,0.971],[1873.5,0.986],[1874.1,0.956],[1874.8,0.976],[1875.5,1.001],[1876.2,0.981],[1876.9,0.971],[1877.5,0.956],[1878.3,0.961],[1878.9,0.936],[1879.4,0.926],[1879.9,0.946],[1880.6,0.966],[1881.2,0.986],[1881.9,1.004],[1882.4,0.976],[1882.9,0.951],[1883.5,0.966],[1884.2,0.996],[1884.9,1.001],[1885.6,0.996],[1886.4,0.988],[1887.0,0.986],[1887.5,0.976],[1887.9,0.961],[1888.6,0.946],[1889.1,0.876],[1889.8,0.936],[1890.4,0.976],[1891.2,0.981],[1892.1,0.971],[1893.0,0.961],[1893.7,0.956],[1894.4,0.936],[1894.9,0.811],[1895.6,0.896],[1896.0,0.926],[1896.7,0.896],[1897.1,0.951],[1897.8,0.976],[1898.5,0.981],[1899.3,0.951],[1899.8,0.886],[1900.4,0.956],[1900.8,0.976],[1901.5,0.986],[1902.2,0.991],[1902.9,0.996],[1903.4,1.008],[1903.9,1.031],[1904.3,0.986],[1905.0,0.996],[1905.4,1.011],[1905.9,0.981],[1906.6,0.976],[1907.3,0.986],[1907.9,0.986],[1908.5,0.951],[1909.1,0.946],[1909.8,0.956],[1910.3,0.946],[1911.0,0.966],[1911.4,0.986],[1912.1,0.976],[1912.8,0.971],[1913.4,0.956],[1913.9,0.928],[1914.5,0.976],[1914.9,0.966],[1915.6,0.961],[1916.2,0.971],[1916.7,0.981],[1917.4,0.966],[1917.9,0.951],[1918.3,0.926],[1918.8,0.956],[1919.3,0.976],[1919.9,0.981],[1920.4,0.976],[1921.1,0.946],[1921.6,0.956],[1922.0,0.966],[1922.7,0.986],[1923.2,0.991],[1923.9,0.986],[1924.5,0.991],[1925.2,0.986],[1926.0,0.996],[1926.6,0.981],[1927.3,0.976],[1928.0,0.968],[1928.7,0.966],[1929.4,0.964],[1930.0,0.961],[1930.8,0.936],[1931.5,0.906],[1932.0,0.851],[1932.4,0.831],[1932.8,0.846],[1933.3,0.806],[1933.5,0.881],[1934.0,0.908],[1934.4,0.916],[1935.2,0.926],[1935.6,0.946],[1936.1,0.951],[1936.8,0.966],[1937.2,0.981],[1937.7,0.971],[1938.1,0.951],[1938.6,0.971],[1939.2,0.966],[1939.8,0.941],[1940.2,0.956],[1940.7,0.936],[1941.2,0.906],[1941.6,0.926],[1942.3,0.951],[1942.7,0.976],[1943.2,0.956],[1943.5,0.936]
];

// Tick values
const xMajor1 = [200, 300, 400, 500, 600, 700, 800];
const xMinor1 = [120, 140, 160, 180, 220, 240, 260, 280, 320, 340, 360, 380, 420, 440, 460, 480, 520, 540, 560, 580, 620, 640, 660, 680, 720, 740, 760, 780, 820];
const xMajor2 = [900, 1000, 1100, 1200, 1300, 1400];
const xMinor2 = [840, 860, 880, 920, 940, 960, 980, 1020, 1040, 1060, 1080, 1120, 1140, 1160, 1180, 1220, 1240, 1260, 1280, 1320, 1340, 1360, 1380, 1420, 1440];
const xMajor3 = [1500, 1600, 1700, 1800, 1900];
const xMinor3 = [1480, 1520, 1540, 1560, 1580, 1620, 1640, 1660, 1680, 1720, 1740, 1760, 1780, 1820, 1840, 1860, 1880, 1920, 1940, 1960];
const yMajor = [0.6, 0.8, 1.0, 1.2];
const yMinor = [0.5, 0.55, 0.65, 0.7, 0.75, 0.85, 0.9, 0.95, 1.05, 1.1, 1.15];

const chartTitle = 'APOGEE Spectra 2M19060637+4717296';
const seriesName = 'Spectra';
const xLabel = 'Wavelength \u03bb (+15000 Angstrom)';
const yLabel = 'Flux';

const FONT = '"DejaVu Serif", "Liberation Serif", serif';
const TXT = '#1a1a1a';
const panels = [
  {data: panel1, major: xMajor1, minor: xMinor1, min: 120.0, max: 831.7, top: 39, height: 233},
  {data: panel2, major: xMajor2, minor: xMinor2, min: 839.7, max: 1451.8, top: 341, height: 234},
  {data: panel3, major: xMajor3, minor: xMinor3, min: 1461.1, max: 1966.5, top: 644, height: 233}
];

const grid = [], xAxis = [], yAxis = [], series = [];
panels.forEach((p, i) => {
  grid.push({left: 97, width: 1829, top: p.top, height: p.height, show: true,
    outerBoundsMode: 'none', containLabel: false,
    borderColor: '#a8a8a8', borderWidth: 1.5, backgroundColor: 'transparent'});
  xAxis.push({
    gridIndex: i, type: 'value', min: p.min, max: p.max, position: 'bottom',
    axisLine: {show: true, onZero: false, lineStyle: {color: '#6e6e6e', width: 1.5}},
    axisTick: {show: true, customValues: p.major, length: 12, lineStyle: {color: '#222', width: 2}},
    axisLabel: {show: true, customValues: p.major, formatter: v => String(Math.round(v)),
      fontFamily: FONT, fontSize: 20, color: TXT, margin: 15},
    splitLine: {show: false}
  });
  xAxis.push({
    gridIndex: i, type: 'value', min: p.min, max: p.max, position: 'bottom',
    axisLine: {show: false, onZero: false},
    axisTick: {show: true, customValues: p.minor, length: 6, lineStyle: {color: '#222', width: 1.5}},
    axisLabel: {show: false}, splitLine: {show: false}
  });
  yAxis.push({
    gridIndex: i, type: 'value', min: 0.5, max: 1.2, position: 'left',
    axisLine: {show: true, onZero: false, lineStyle: {color: '#6e6e6e', width: 1.5}},
    axisTick: {show: true, customValues: yMajor, length: 12, lineStyle: {color: '#222', width: 2}},
    axisLabel: {show: true, customValues: yMajor, formatter: v => v.toFixed(1),
      fontFamily: FONT, fontSize: 20, color: TXT, margin: 19},
    splitLine: {show: false}
  });
  yAxis.push({
    gridIndex: i, type: 'value', min: 0.5, max: 1.2, position: 'left',
    axisLine: {show: false, onZero: false},
    axisTick: {show: true, customValues: yMinor, length: 6, lineStyle: {color: '#222', width: 1.5}},
    axisLabel: {show: false}, splitLine: {show: false}
  });
  series.push({
    type: 'line', name: seriesName, xAxisIndex: 2 * i, yAxisIndex: 2 * i,
    data: p.data, showSymbol: false, symbol: 'none', clip: true,
    lineStyle: {color: '#1f77b4', width: 1.7}, itemStyle: {color: '#1f77b4'},
    emphasis: {disabled: true}
  });
});

const chart = echarts.init(document.getElementById('chart'), null, {renderer: 'canvas'});
chart.setOption({
  animation: false,
  backgroundColor: '#ffffff',
  title: {text: chartTitle, left: 697, top: 8, padding: 0,
    textStyle: {fontFamily: FONT, fontSize: 26.2, fontWeight: 'normal', color: TXT}},
  legend: {data: [seriesName], left: 108, top: 49, icon: 'rect', itemWidth: 46, itemHeight: 5,
    padding: [9, 10, 9, 8], borderColor: '#d9d9d9', borderWidth: 1, borderRadius: 4,
    backgroundColor: '#fff',
    textStyle: {fontFamily: FONT, fontSize: 20, color: TXT, padding: [0, 0, 0, 7]}},
  grid, xAxis, yAxis, series,
  graphic: [
    {type: 'text', x: 1012, y: 932, silent: true,
      style: {text: xLabel, font: '26.7px ' + FONT, fill: TXT, align: 'center', verticalAlign: 'middle', textAlign: 'center', textVerticalAlign: 'middle'}},
    {type: 'text', x: 31, y: 471, rotation: Math.PI / 2, silent: true,
      style: {text: yLabel, font: '26.7px ' + FONT, fill: TXT, align: 'center', verticalAlign: 'middle', textAlign: 'center', textVerticalAlign: 'middle'}}
  ]
});
</script>
</body></html>
